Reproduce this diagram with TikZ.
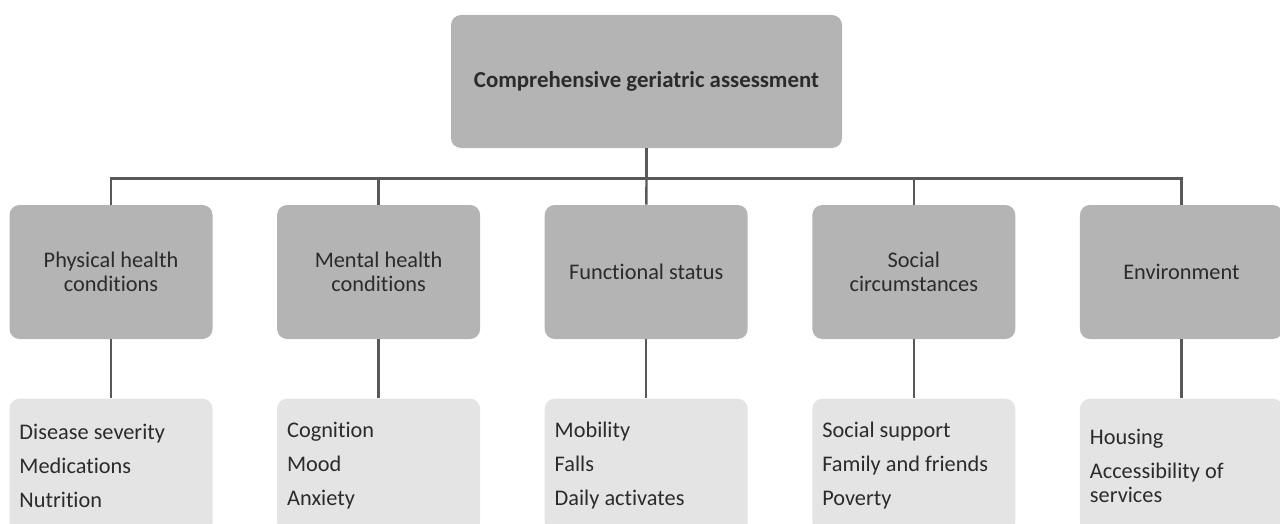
\documentclass[tikz,border=0pt]{standalone}
\usepackage{fontspec}
\setmainfont{Carlito}[Ligatures=NoCommon]
\usetikzlibrary{positioning,calc}
\definecolor{boxgray}{HTML}{B4B4B4}
\definecolor{listgray}{HTML}{E4E4E4}
\definecolor{linegray}{HTML}{595959}
\definecolor{textgray}{HTML}{2B2B2B}

\begin{document}
\begin{tikzpicture}[node distance=1.18cm and 1.278cm,
            every node/.style={rounded corners=0.2cm, minimum width=4.06cm, minimum height=2.68cm,
                               inner sep=0.2cm, text=textgray, font=\fontsize{12.7}{13.6}\selectfont},
            area/.style={fill=boxgray, align=center},
            items/.style={fill=listgray, align=flush left, text width=3.66cm},
            link/.style={draw=linegray, line width=1.4pt}]
        \useasboundingbox (0,0) rectangle (25.6,-10.48);

        \node[area, minimum width=7.82cm, minimum height=2.66cm,
              font=\fontsize{13}{14}\selectfont\bfseries] (cga) at (12.93,-1.63)
              {Comprehensive geriatric assessment};

        \node[area] (phys) at (2.22,-5.44) {Physical health\\conditions};
        \node[area, right=of phys] (ment) {Mental health\\conditions};
        \node[area, right=of ment] (func) {Functional status};
        \node[area, right=of func] (soc) {Social\\circumstances};
        \node[area, right=of soc] (env) {Environment};

        \node[items, below=of phys] (physlist) {Disease severity\\[5.7pt]Medications\\[5.7pt]Nutrition};
        \node[items, below=of ment] (mentlist) {Cognition\\[5.7pt]Mood\\[5.7pt]Anxiety};
        \node[items, below=of func] (funclist) {Mobility\\[5.7pt]Falls\\[5.7pt]Daily activates};
        \node[items, below=of soc] (soclist) {Social support\\[5.7pt]Family and friends\\[5.7pt]Poverty};
        \node[items, below=of env] (envlist) {Housing\\[5.7pt]Accessibility of\\services};

        \coordinate (bus) at ($(cga.south)+(0,-0.6)$);
        \draw[link] (cga) -- (bus);
        \draw[link] (bus) -| (phys);
        \draw[link] (bus) -| (ment);
        \draw[link] (bus) -- (func);
        \draw[link] (bus) -| (soc);
        \draw[link] (bus) -| (env);

        \draw[link] (phys) -- (physlist);
        \draw[link] (ment) -- (mentlist);
        \draw[link] (func) -- (funclist);
        \draw[link] (soc) -- (soclist);
        \draw[link] (env) -- (envlist);
\end{tikzpicture}
\end{document}
